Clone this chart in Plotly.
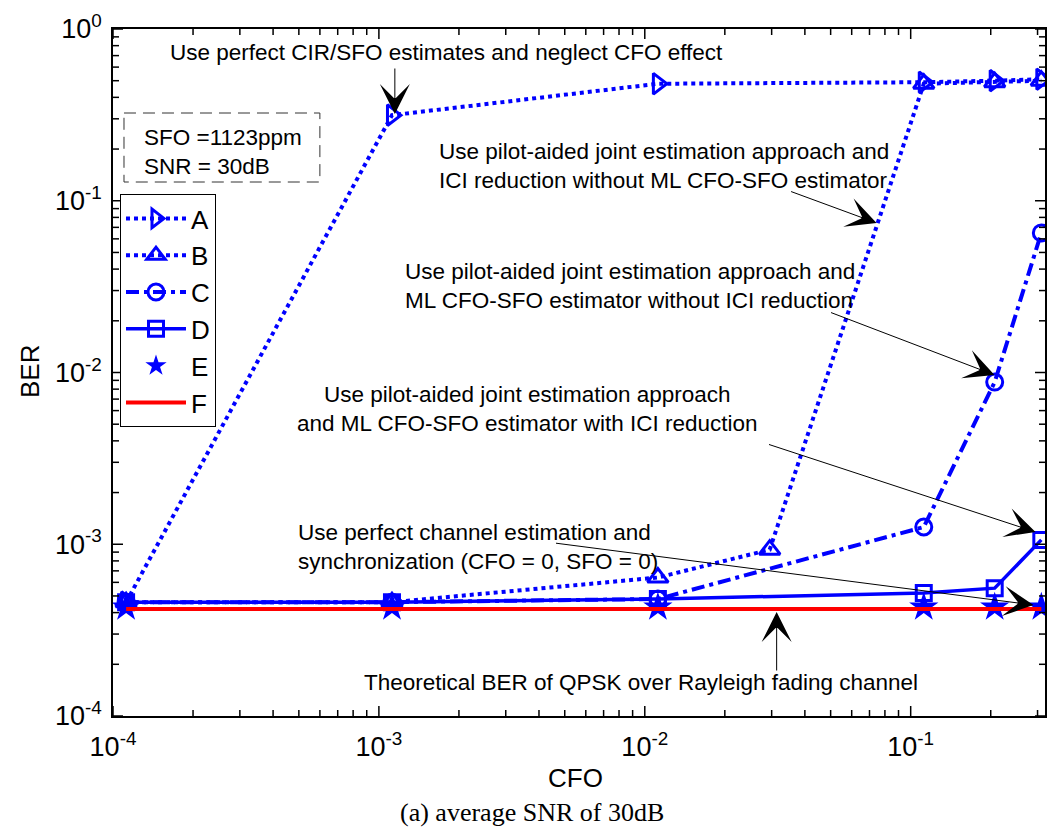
import math
import plotly.graph_objects as go

# ---- data -------------------------------------------------------------
cfo = [1.12e-4, 1.12e-3, 1.12e-2, 0.112, 0.207, 0.31]
cfo_b = [1.12e-4, 1.12e-3, 1.12e-2, 0.0295, 0.112, 0.207, 0.31]

ber_a = [4.6e-4, 0.315, 0.48, 0.49, 0.50, 0.51]
ber_b = [4.6e-4, 4.6e-4, 6.4e-4, 9.3e-4, 0.48, 0.49, 0.50]
ber_c = [4.6e-4, 4.6e-4, 4.8e-4, 1.26e-3, 8.8e-3, 0.065]
ber_d = [4.6e-4, 4.6e-4, 4.8e-4, 5.2e-4, 5.55e-4, 1.06e-3]
ber_e = [4.3e-4, 4.3e-4, 4.3e-4, 4.3e-4, 4.3e-4, 4.3e-4]
ber_f = [4.2e-4, 4.2e-4, 4.2e-4, 4.2e-4, 4.2e-4, 4.2e-4]

x_tickvals = [1e-4, 1e-3, 1e-2, 1e-1]
x_ticktext = ["10<sup>-4</sup>", "10<sup>-3</sup>", "10<sup>-2</sup>", "10<sup>-1</sup>"]
y_tickvals = [1e-4, 1e-3, 1e-2, 1e-1, 1e0]
y_ticktext = ["10<sup>-4</sup>", "10<sup>-3</sup>", "10<sup>-2</sup>", "10<sup>-1</sup>", "10<sup>0</sup>"]

X_RANGE = [1e-4, 0.32]
Y_RANGE = [1e-4, 1.0]

# minor ticks at 2..9 within each decade
x_minor = [m * 10.0 ** e for e in range(-4, 0) for m in range(2, 10) if m * 10.0 ** e <= X_RANGE[1]]
y_minor = [m * 10.0 ** e for e in range(-4, 0) for m in range(2, 10)]

# ---- layout geometry --------------------------------------------------
W, H = 1057, 829
PL, PT, PR, PB = 113, 29, 1045.5, 716
PW, PH = PR - PL, PB - PT

def paper(px, py):
    return (px - PL) / PW, 1 - (py - PT) / PH

def frac(v, rng):
    lo, hi = math.log10(rng[0]), math.log10(rng[1])
    return (math.log10(v) - lo) / (hi - lo)

BLUE = "#0000ff"
FONT = "Liberation Sans, Arial, sans-serif"

fig = go.Figure()

fig.add_trace(go.Scatter(
    x=cfo, y=ber_a, name="A", mode="lines+markers",
    line=dict(color=BLUE, width=4, dash="4px,4px"),
    marker=dict(symbol="triangle-right-open", size=18, color=BLUE, line=dict(width=3, color=BLUE)),
))
fig.add_trace(go.Scatter(
    x=cfo_b, y=ber_b, name="B", mode="lines+markers",
    line=dict(color=BLUE, width=4, dash="4px,4px"),
    marker=dict(symbol="triangle-up-open", size=18, color=BLUE, line=dict(width=3, color=BLUE)),
))
fig.add_trace(go.Scatter(
    x=cfo, y=ber_c, name="C", mode="lines+markers",
    line=dict(color=BLUE, width=4, dash="13px,5px,4px,5px"),
    marker=dict(symbol="circle-open", size=16, color=BLUE, line=dict(width=3, color=BLUE)),
))
fig.add_trace(go.Scatter(
    x=cfo, y=ber_d, name="D", mode="lines+markers",
    line=dict(color=BLUE, width=3.5),
    marker=dict(symbol="square-open", size=15, color=BLUE, line=dict(width=3, color=BLUE)),
))
fig.add_trace(go.Scatter(
    x=cfo, y=ber_e, name="E", mode="markers",
    marker=dict(symbol="star", size=22, color=BLUE, line=dict(width=0)),
))
fig.add_trace(go.Scatter(
    x=cfo, y=ber_f, name="F", mode="lines",
    line=dict(color="#ff0000", width=4),
))

# ---- text annotations -------------------------------------------------
ann = []

def text_at(px, py, txt, size=22.5, anchor="left", family=FONT, angle=0, align="left"):
    x, y = paper(px, py)
    ann.append(dict(x=x, y=y, xref="paper", yref="paper", text=txt, showarrow=False,
                    xanchor=anchor, yanchor="middle", align=align, textangle=angle,
                    font=dict(family=family, size=size, color="black")))

def arrow(tail, tip):
    x, y = paper(*tip)
    ann.append(dict(x=x, y=y, xref="paper", yref="paper", text="", showarrow=True,
                    ax=tail[0] - tip[0], ay=tail[1] - tip[1], axref="pixel", ayref="pixel",
                    arrowhead=3, arrowsize=5, arrowwidth=1, arrowcolor="black",
                    standoff=0, startstandoff=0))

text_at(168, 53, "Use perfect CIR/SFO estimates and neglect CFO effect")
arrow((395, 67), (395, 114))

text_at(437, 166, "Use pilot-aided joint estimation approach and<br>ICI reduction without ML CFO-SFO estimator")
arrow((790, 191), (877, 223))

text_at(403, 286, "Use pilot-aided joint estimation approach and<br>ML CFO-SFO estimator without ICI reduction")
arrow((830, 312), (995, 375))

text_at(528, 409, "Use pilot-aided joint estimation approach<br>and ML CFO-SFO estimator with ICI reduction",
        anchor="center", align="center")
arrow((768, 444), (1036, 532))

text_at(296, 547, "Use perfect channel estimation and<br>synchronization (CFO = 0, SFO = 0)")
arrow((555, 543), (1034, 605))

text_at(362, 682, "Theoretical BER of QPSK over Rayleigh fading channel")
arrow((777, 672), (777, 612))

# parameter box
text_at(142, 138, "SFO =1123ppm")
text_at(142, 166, "SNR = 30dB")

# axis titles and caption
text_at(30, 372, "BER", size=26, anchor="center", angle=-90)
text_at(576, 778, "CFO", size=26, anchor="center")
text_at(532, 812, "(a) average SNR of 30dB", size=26, anchor="center",
        family="Liberation Serif, Times New Roman, serif")

# ---- shapes: parameter box and inward tick marks on all four sides -----
bx0, by0 = paper(124, 113)
bx1, by1 = paper(320, 182)
shapes = [dict(type="rect", xref="paper", yref="paper", x0=bx0, y0=by0, x1=bx1, y1=by1,
               line=dict(color="#333333", width=1, dash="12px,7px"), fillcolor="rgba(0,0,0,0)")]

TICK = dict(color="black", width=1.5)
MAJ, MIN = 10, 6

def x_tick(v, length):
    f = frac(v, X_RANGE)
    for base, sign in ((0.0, 1), (1.0, -1)):
        shapes.append(dict(type="line", xref="paper", yref="paper", x0=f, x1=f,
                           y0=base, y1=base + sign * length / PH, line=TICK))

def y_tick(v, length):
    f = frac(v, Y_RANGE)
    for base, sign in ((0.0, 1), (1.0, -1)):
        shapes.append(dict(type="line", xref="paper", yref="paper", y0=f, y1=f,
                           x0=base, x1=base + sign * length / PW, line=TICK))

for v in x_tickvals:
    x_tick(v, MAJ)
for v in x_minor:
    x_tick(v, MIN)
for v in y_tickvals:
    y_tick(v, MAJ)
for v in y_minor:
    y_tick(v, MIN)

lx, ly = paper(120, 194)

axis_common = dict(
    type="log", showgrid=False, zeroline=False,
    showline=True, linecolor="black", linewidth=1.5, mirror=True,
    ticks="", tickmode="array",
    tickfont=dict(family=FONT, size=27, color="black"),
)

fig.update_layout(
    width=W, height=H,
    margin=dict(l=PL, r=W - PR, t=PT, b=H - PB),
    paper_bgcolor="white", plot_bgcolor="white",
    font=dict(family=FONT, color="black"),
    xaxis=dict(range=[math.log10(X_RANGE[0]), math.log10(X_RANGE[1])],
               tickvals=x_tickvals, ticktext=x_ticktext, ticklabelstandoff=6, **axis_common),
    yaxis=dict(range=[math.log10(Y_RANGE[0]), math.log10(Y_RANGE[1])],
               tickvals=y_tickvals, ticktext=y_ticktext, ticklabelstandoff=4, **axis_common),
    legend=dict(x=lx, y=ly, xanchor="left", yanchor="top", bgcolor="white",
                bordercolor="black", borderwidth=1, font=dict(family=FONT, size=26, color="black"),
                itemwidth=60, tracegroupgap=0),
    annotations=ann,
    shapes=shapes,
    showlegend=True,
)

fig.write_html("out.html")
